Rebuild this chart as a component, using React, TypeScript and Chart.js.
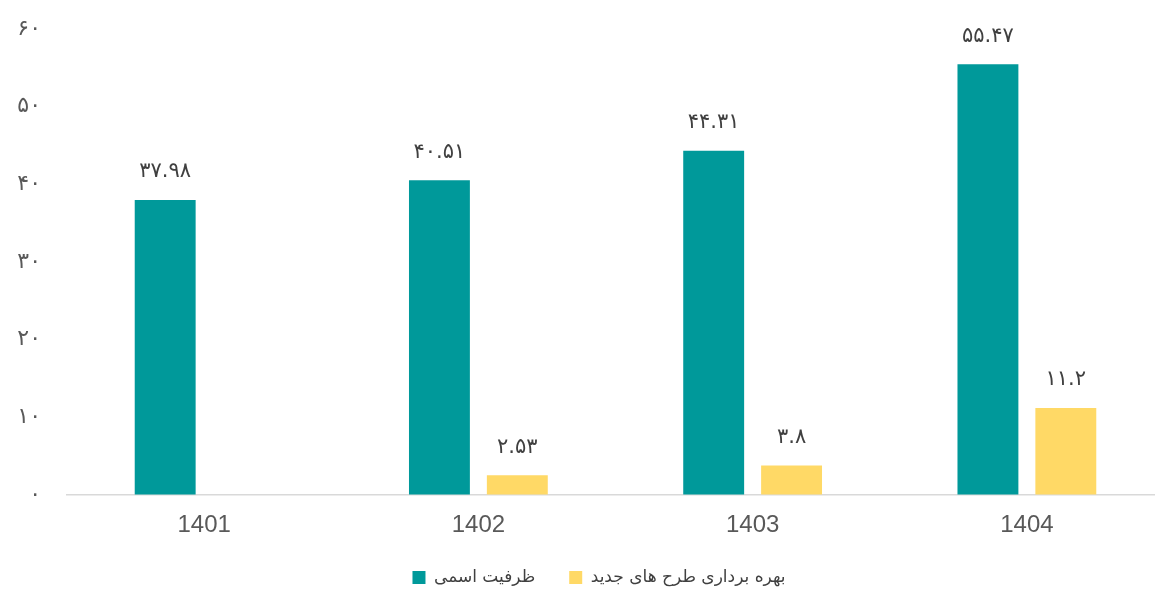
import React, { useEffect, useRef } from "react";
import { Chart, registerables } from "chart.js";

Chart.register(...registerables);

const categories = ["1401", "1402", "1403", "1404"];
const nominalCapacity = [37.98, 40.51, 44.31, 55.47];
const newProjects = [null, 2.53, 3.8, 11.2];
const seriesNames = ["ظرفیت اسمی", "بهره برداری طرح های جدید"];
const yTicks = [0, 10, 20, 30, 40, 50, 60];

const TEAL = "#00999A";
const YELLOW = "#FFD966";

const faDigits = (s: string) => s.replace(/\d/g, (d) => "۰۱۲۳۴۵۶۷۸۹"[Number(d)]);

const dataLabelPlugin = {
  id: "dataLabels",
  afterDatasetsDraw(chart: any) {
    const ctx = chart.ctx;
    ctx.save();
    ctx.font = "21px 'DejaVu Sans'";
    ctx.fillStyle = "#404040";
    ctx.textAlign = "center";
    ctx.textBaseline = "middle";
    chart.data.datasets.forEach((ds: any, i: number) => {
      const meta = chart.getDatasetMeta(i);
      meta.data.forEach((el: any, j: number) => {
        const v = ds.data[j];
        if (v === null || v === undefined) return;
        ctx.fillText(faDigits(String(v)), el.x, el.y - 28);
      });
    });
    ctx.restore();
  },
};

const legendShiftPlugin = {
  id: "legendShift",
  afterLayout(chart: any) {
    const lg = chart.legend;
    if (lg) {
      lg.left += 17;
      lg.right += 17;
    }
  },
};

export default function App() {
  const ref = useRef<HTMLCanvasElement>(null);
  useEffect(() => {
    if (!ref.current) return;
    const chart = new Chart(ref.current, {
      type: "bar",
      data: {
        labels: categories,
        datasets: [
          {
            label: seriesNames[0],
            data: nominalCapacity,
            backgroundColor: TEAL,
            categoryPercentage: 0.568,
            barPercentage: 0.782,
          },
          {
            label: seriesNames[1],
            data: newProjects as any,
            backgroundColor: YELLOW,
            categoryPercentage: 0.568,
            barPercentage: 0.782,
          },
        ],
      },
      options: {
        responsive: false,
        animation: false,
        layout: { padding: { top: 29, bottom: 0, left: 0, right: 0 } },
        plugins: {
          tooltip: { enabled: false },
          legend: {
            position: "bottom",
            labels: {
              boxWidth: 13,
              boxHeight: 13,
              padding: 34,
              color: "#404040",
              font: { family: "'DejaVu Sans'", size: 17 },
            },
          },
        },
        scales: {
          x: {
            grid: { display: false },
            border: { display: true, color: "#D9D9D9", width: 1.5 },
            ticks: {
              color: "#595959",
              font: { family: "'Liberation Sans'", size: 24 },
              padding: 8,
            },
            afterFit: (s: any) => {
              s.height = 40;
            },
          },
          y: {
            min: 0,
            max: 60,
            grid: { display: true, color: "rgba(0,0,0,0)", drawTicks: true, tickLength: 26 },
            border: { display: false },
            afterBuildTicks: (s: any) => {
              s.ticks = yTicks.map((v) => ({ value: v }));
            },
            ticks: {
              color: "#595959",
              font: { family: "'DejaVu Sans'", size: 22 },
              padding: 0,
              callback: (v: any) => faDigits(String(v)),
            },
            afterFit: (s: any) => {
              s.width = 67;
            },
          },
        },
      },
      plugins: [dataLabelPlugin, legendShiftPlugin],
    });
    return () => chart.destroy();
  }, []);
  return (
    <div style={{ position: "absolute", left: 0, top: 0, width: 1155, height: 595, overflow: "hidden", background: "#fff" }}>
      <canvas ref={ref} width={1164} height={596} />
    </div>
  );
}
